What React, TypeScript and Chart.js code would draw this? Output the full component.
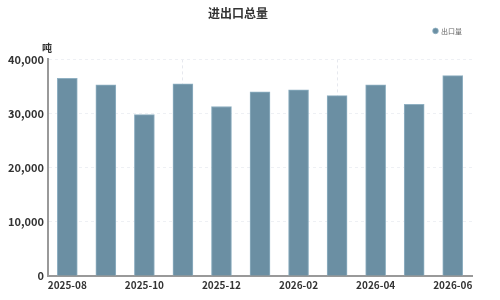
import React, { useEffect, useRef } from "react";
import { Chart, registerables } from "chart.js";

Chart.register(...registerables);

const categories = ["2025-08", "2025-09", "2025-10", "2025-11", "2025-12", "2026-01", "2026-02", "2026-03", "2026-04", "2026-05", "2026-06"];
const exportValues = [36500, 35300, 29800, 35500, 31300, 34000, 34400, 33300, 35300, 31700, 37000];
const yTicks = [0, 10000, 20000, 30000, 40000];
const seriesName = "出口量";
const chartTitle = "进出口总量";
const unitLabel = "吨";

const FONT = "'Noto Sans CJK SC', 'Open Sans', sans-serif";

const unitPlugin = {
  id: "unitLabel",
  afterDraw(chart: any) {
    const { ctx, chartArea } = chart;
    ctx.save();
    ctx.font = `bold 10px ${FONT}`;
    ctx.fillStyle = "#333";
    ctx.textAlign = "center";
    ctx.textBaseline = "bottom";
    ctx.fillText(unitLabel, chartArea.left - 1, chartArea.top - 6);
    ctx.restore();
  },
};

const legendSpacer = {
  id: "legendSpacer",
  beforeInit(chart: any) {
    const legend = chart.legend;
    if (!legend) return;
    const origFit = legend.fit;
    legend.fit = function () {
      origFit.bind(legend)();
      this.height += 12;
    };
  },
  afterLayout(chart: any) {
    const legend = chart.legend;
    if (!legend) return;
    legend.right -= 4;
    legend.top -= 3;
  },
};

export default function App() {
  const ref = useRef<HTMLCanvasElement>(null);
  useEffect(() => {
    if (!ref.current) return;
    const chart = new Chart(ref.current, {
      type: "bar",
      data: {
        labels: categories,
        datasets: [
          {
            label: seriesName,
            data: exportValues,
            backgroundColor: "#6b8fa3",
            borderColor: "#8fb0c2",
            borderWidth: { left: 1, right: 1, top: 1, bottom: 0 } as any,
            barThickness: 20,
          },
        ],
      },
      options: {
        responsive: false,
        animation: false,
        layout: { padding: { left: 4, right: 28, top: 0, bottom: 6 } },
        plugins: {
          title: {
            display: true,
            text: chartTitle,
            color: "#333",
            font: { family: FONT, size: 12, weight: "bold" },
            padding: { top: 6, bottom: 4 },
          },
          legend: {
            display: true,
            position: "top",
            align: "end",
            labels: {
              usePointStyle: true,
              pointStyle: "circle",
              boxWidth: 4,
              boxHeight: 4,
              color: "#666",
              font: { family: FONT, size: 7 },
              padding: 6,
            },
          },
          tooltip: { enabled: false },
        },
        scales: {
          x: {
            offset: true,
            grid: {
              offset: true,
              color: "#e6e8ee",
              drawTicks: false,
            } as any,
            border: { display: true, color: "#999", width: 2, dash: [3, 3] } as any,
            ticks: {
              autoSkip: true,
              maxTicksLimit: 6,
              maxRotation: 0,
              color: "#333",
              padding: 3,
              font: { family: FONT, size: 10, weight: "bold" },
            },
          },
          y: {
            min: 0,
            max: 40000,
            afterBuildTicks: (axis: any) => {
              axis.ticks = yTicks.map((v) => ({ value: v }));
            },
            grid: { color: "#eef0f4", drawTicks: false },
            border: { display: true, color: "#999", width: 2, dash: [3, 3] } as any,
            ticks: {
              color: "#333",
              padding: 4,
              font: { family: FONT, size: 11, weight: "bold" },
              callback: (v: any) => Number(v).toLocaleString("en-US"),
            },
          },
        },
      },
      plugins: [legendSpacer, unitPlugin],
    });
    return () => chart.destroy();
  }, []);
  return (
    <div style={{ position: "fixed", left: 0, top: 0, width: 500, height: 300, background: "#fff" }}>
      <canvas ref={ref} width={500} height={300} />
    </div>
  );
}
